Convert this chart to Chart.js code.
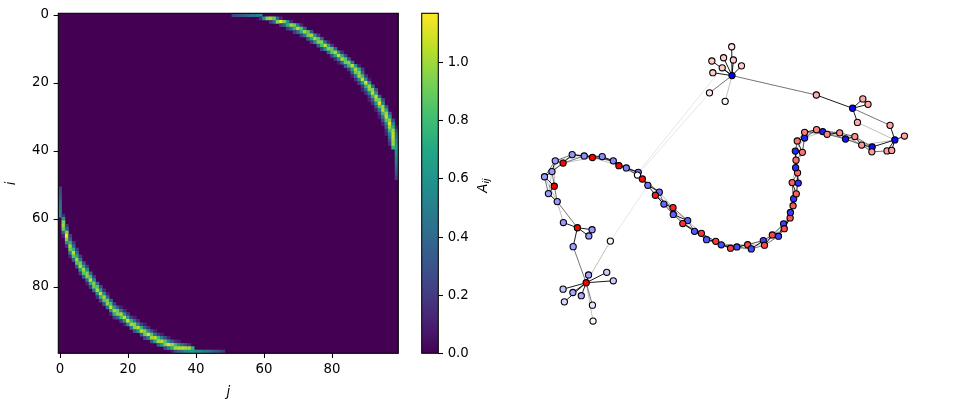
<!DOCTYPE html>
<html><head><meta charset="utf-8">
<script src="https://cdn.jsdelivr.net/npm/chart.js@4/dist/chart.umd.min.js"></script>
<style>
html,body{margin:0;padding:0;background:#fff;overflow:hidden}
#wrap{position:relative;width:957px;height:411px;background:#fff}
#wrap canvas{position:absolute;top:0}
</style></head><body>
<div id="wrap">
<canvas id="hm" width="410" height="411" style="left:0px"></canvas>
<canvas id="cb" width="110" height="411" style="left:400px"></canvas>
<canvas id="net" width="477" height="411" style="left:480px"></canvas>
</div>
<script>
// ---------------- DATA ----------------
// Matrix A_ij (100 x 100), zero everywhere except two arcs.
// Upper-right arc, read row by row: first nonzero column of row r, then its values.
const upperArcStart = [51,59,62,65,67,69,71,73,74,76,77,79,80,81,82,84,85,86,86,87,88,89,89,90,91,91,92,93,93,94,94,95,95,96,96,96,97,97,97,98,99,99,99,99,99,99,99,99,99];
const upperArcVals = [
 [0.22,0.26,0.3,0.34,0.38,0.42,0.46,0.5,0.55],
 [0.15,0.6,0.95,1.0,0.9,0.4,0.12],
 [0.2,0.4,0.95,1.15,0.95,0.6,0.15],
 [0.2,0.35,0.75,1.0,0.9,0.5,0.12],
 [0.2,0.4,0.75,1.05,0.85,0.35],
 [0.2,0.4,0.75,1.0,0.85,0.3],
 [0.2,0.45,0.9,1.0,0.65,0.2],
 [0.3,0.7,1.0,0.85,0.35],
 [0.2,0.55,0.95,0.95,0.45,0.1],
 [0.35,0.8,1.05,0.7,0.2],
 [0.2,0.55,0.95,0.9,0.4],
 [0.4,0.85,1.0,0.6,0.15],
 [0.25,0.7,1.05,0.75,0.25],
 [0.15,0.55,1.0,0.85,0.3],
 [0.1,0.4,0.9,0.95,0.45],
 [0.35,0.8,1.05,0.6,0.1],
 [0.2,0.65,1.0,0.75,0.2],
 [0.35,0.9,0.95,0.35],
 [0.1,0.45,1.0,0.8,0.2],
 [0.15,0.55,1.05,0.6,0.1],
 [0.2,0.65,1.1,0.55],
 [0.2,0.75,1.0,0.45],
 [0.1,0.4,0.95,0.95,0.3],
 [0.15,0.55,1.05,0.6],
 [0.2,0.75,1.05,0.35],
 [0.1,0.35,0.95,0.9,0.25],
 [0.15,0.6,1.1,0.5],
 [0.3,0.85,1.0,0.3],
 [0.1,0.45,1.05,0.7],
 [0.2,0.8,1.0,0.35],
 [0.1,0.5,1.05,0.6],
 [0.25,0.85,0.95,0.25],
 [0.1,0.55,1.1,0.5],
 [0.35,1.0,0.75,0.1],
 [0.15,0.8,1.0,0.25],
 [0.1,0.55,1.05,0.4],
 [0.4,1.05,0.45],
 [0.25,1.0,0.55],
 [0.15,1.0,0.6],
 [0.75,0.65],
 [0.6],[0.57],[0.53],[0.48],[0.43],[0.38],[0.32],[0.27],[0.2]
];
// Lower-left arc, read column by column: first nonzero row of column c, then its values.
const lowerArcStart = [51,59,62,65,67,69,71,73,74,76,77,79,80,81,82,84,85,86,86,87,88,89,89,90,91,91,92,93,93,94,94,95,95,96,96,96,97,97,97,98,99,99,99,99,99,99,99,99,99];
const lowerArcVals = [
 [0.22,0.26,0.3,0.34,0.38,0.42,0.46,0.5,0.55],
 [0.15,0.6,0.95,1.0,0.9,0.4,0.12],
 [0.2,0.4,0.95,1.15,0.95,0.6,0.15],
 [0.2,0.35,0.75,1.0,0.9,0.5,0.12],
 [0.2,0.4,0.75,1.05,0.85,0.35],
 [0.2,0.4,0.75,1.0,0.85,0.3],
 [0.2,0.45,0.9,1.0,0.65,0.2],
 [0.3,0.7,1.0,0.85,0.35],
 [0.2,0.55,0.95,0.95,0.45,0.1],
 [0.35,0.8,1.05,0.7,0.2],
 [0.2,0.55,0.95,0.9,0.4],
 [0.4,0.85,1.0,0.6,0.15],
 [0.25,0.7,1.05,0.75,0.25],
 [0.15,0.55,1.0,0.85,0.3],
 [0.1,0.4,0.9,0.95,0.45],
 [0.35,0.8,1.05,0.6,0.1],
 [0.2,0.65,1.0,0.75,0.2],
 [0.35,0.9,0.95,0.35],
 [0.1,0.45,1.0,0.8,0.2],
 [0.15,0.55,1.05,0.6,0.1],
 [0.2,0.65,1.1,0.55],
 [0.2,0.75,1.0,0.45],
 [0.1,0.4,0.95,0.95,0.3],
 [0.15,0.55,1.05,0.6],
 [0.2,0.75,1.05,0.35],
 [0.1,0.35,0.95,0.9,0.25],
 [0.15,0.6,1.1,0.5],
 [0.3,0.85,1.0,0.3],
 [0.1,0.45,1.05,0.7],
 [0.2,0.8,1.0,0.35],
 [0.1,0.5,1.05,0.6],
 [0.25,0.85,0.95,0.25],
 [0.1,0.55,1.1,0.5],
 [0.35,1.0,0.75,0.1],
 [0.15,0.8,1.0,0.25],
 [0.1,0.55,1.05,0.4],
 [0.4,1.05,0.45],
 [0.25,1.0,0.55],
 [0.15,1.0,0.6],
 [0.75,0.65],
 [0.6],[0.57],[0.53],[0.48],[0.43],[0.38],[0.32],[0.27],[0.2]
];
const matrixSize = 100;
const hmTicks = [0,20,40,60,80];
const cbMax = 1.17;
const cbTicks = [0.0,0.2,0.4,0.6,0.8,1.0];

// Network: node layout positions, node colour value (bwr, 0=blue, 0.5=white, 1=red)
const nodeX = [-1.663,-1.753,-1.693,-1.793,-1.717,-1.683,-1.603,-1.510,-1.387,-1.303,
 -1.203,-1.090,-1.033,-0.957,-0.835,-0.843,-0.793,-0.737,-0.620,-0.660,
 -0.573,-0.480,-0.477,-0.330,-0.380,-0.260,-0.190,-0.137,-0.043,0.013,
 0.108,0.173,0.283,0.320,0.443,0.455,0.535,0.598,0.650,0.657,
 0.717,0.720,0.747,0.753,0.780,0.738,0.800,0.793,0.773,0.777,
 0.770,0.842,0.790,0.865,0.865,0.987,1.050,1.095,1.223,1.283,
 1.378,1.448,1.555,1.552,1.707,1.755,1.787,1.885,1.738,1.355,
 1.405,1.460,1.513,0.985,0.123,0.120,0.037,0.137,-0.083,0.220,
 0.023,-0.073,-0.107,0.053,-1.457,-1.600,-1.307,-1.340,-1.500,-1.120,
 -1.367,-1.343,-1.157,-1.090,-1.603,-1.503,-1.417,-1.590,-1.303,-1.297];
const nodeY = [0.085,0.167,0.243,0.340,0.393,0.503,0.480,0.567,0.553,0.537,
 0.547,0.503,0.453,0.430,0.385,0.357,0.317,0.252,0.182,0.150,
 0.060,0.023,-0.047,-0.110,-0.140,-0.220,-0.240,-0.305,-0.322,-0.358,
 -0.393,-0.380,-0.357,-0.400,-0.315,-0.362,-0.257,-0.270,-0.143,-0.193,
 -0.082,-0.027,0.043,0.115,0.165,0.280,0.275,0.380,0.433,0.510,
 0.603,0.590,0.707,0.737,0.795,0.823,0.803,0.775,0.790,0.727,
 0.752,0.665,0.645,0.595,0.605,0.610,0.717,0.757,0.867,1.042,
 0.897,1.138,1.082,1.178,1.377,1.673,1.560,1.537,1.527,1.477,
 1.457,1.407,1.200,1.113,-0.183,-0.130,-0.203,-0.267,-0.377,-0.320,
 -0.747,-0.667,-0.640,-0.727,-0.813,-0.847,-0.880,-0.943,-0.977,-1.140];
const nodeValue = [0.3,0.3,1.0,0.3,0.3,0.3,1.0,0.29,0.28,1.0,
 0.27,0.26,1.0,0.25,0.24,0.5,0.98,0.22,0.21,0.95,
 0.2,0.93,0.19,0.18,0.91,0.17,0.9,0.16,0.89,0.15,
 0.88,0.14,0.87,0.14,0.13,0.86,0.86,0.12,0.12,0.85,
 0.84,0.11,0.83,0.1,0.82,0.82,0.09,0.8,0.08,0.79,
 0.07,0.78,0.77,0.06,0.76,0.75,0.05,0.74,0.73,0.04,
 0.72,0.71,0.03,0.7,0.69,0.69,0.02,0.68,0.68,0.01,
 0.67,0.67,0.67,0.66,0.0,0.55,0.6,0.6,0.6,0.6,
 0.6,0.6,0.55,0.52,1.0,0.3,0.3,0.3,0.32,0.48,
 1.0,0.32,0.4,0.4,0.38,0.33,0.33,0.42,0.45,0.49];
// Edges grouped by drawn strength
const edgesStrong = [[0,1],[1,2],[2,3],[3,4],[4,5],[5,6],[6,7],[7,8],[8,9],[9,10],[10,11],[11,12],[12,13],[13,14],[14,15],[15,16],[16,17],[17,18],[18,19],[19,20],[20,21],[21,22],[22,23],[23,24],[24,25],[25,26],[26,27],[27,28],[28,29],[29,30],[30,31],[31,32],[32,33],[33,34],[34,35],[35,36],[36,37],[37,38],[38,39],[39,40],[40,41],[41,42],[42,43],[43,44],[44,45],[45,46],[46,47],[47,48],[48,49],[49,50],[50,51],[51,52],[52,53],[53,54],[54,55],[55,56],[56,57],[57,58],[58,59],[59,60],[60,61],[61,62],[62,63],[62,66],[64,66],[65,66],[67,66],[66,68],[69,70],[69,71],[69,72],[69,73],[74,75],[74,76],[74,77],[74,78],[74,79],[74,80],[74,81],[84,85],[84,86],[84,87],[84,88],[90,91],[90,92],[90,93],[90,94],[90,95],[90,96],[90,97]];
const edgesMedium = [[0,2],[1,3],[2,4],[3,5],[4,6],[5,7],[6,8],[7,9],[8,10],[9,11],[10,12],[11,13],[12,14],[13,15],[14,16],[15,17],[16,18],[17,19],[18,20],[19,21],[20,22],[21,23],[22,24],[23,25],[24,26],[25,27],[26,28],[27,29],[28,30],[29,31],[30,32],[31,33],[32,34],[33,35],[34,36],[35,37],[36,38],[37,39],[38,40],[39,41],[40,42],[41,43],[42,44],[43,45],[44,46],[45,47],[46,48],[47,49],[48,50],[49,51],[50,52],[51,53],[52,54],[53,55],[54,56],[55,57],[56,58],[57,59],[58,60],[59,61],[60,62],[61,63],[63,64],[68,69],[73,74],[74,82],[90,98],[88,90],[0,84]];
const edgesWeak = [[0,3],[1,4],[2,5],[3,6],[4,7],[5,8],[6,9],[7,10],[8,11],[9,12],[10,13],[11,14],[12,15],[13,16],[14,17],[15,18],[16,19],[17,20],[18,21],[19,22],[20,23],[21,24],[22,25],[23,26],[24,27],[25,28],[26,29],[27,30],[28,31],[29,32],[30,33],[31,34],[32,35],[33,36],[34,37],[35,38],[36,39],[37,40],[38,41],[39,42],[40,43],[41,44],[42,45],[43,46],[44,47],[45,48],[46,49],[47,50],[48,51],[49,52],[50,53],[51,54],[52,55],[53,56],[54,57],[55,58],[56,59],[57,60],[58,61],[59,62],[60,63],[74,83],[90,99],[89,90],[0,85],[70,66],[61,66]];
const edgesFaint = [[82,15],[80,14],[89,17]];

// ---------------- HELPERS ----------------
const FONT = 'DejaVu Sans';
const FS = 13.3;
Chart.defaults.font.family = FONT;
Chart.defaults.font.size = FS;
Chart.defaults.color = '#000';
Chart.defaults.animation = false;

const VIR = ['#440154','#482475','#414487','#355f8d','#2a788e','#21918c','#22a884','#44bf70','#7ad151','#bddf26','#fde725']
  .map(h => [parseInt(h.slice(1,3),16), parseInt(h.slice(3,5),16), parseInt(h.slice(5,7),16)]);
function viridis(t){
  t = Math.max(0, Math.min(1, t));
  const p = t*10, i = Math.min(9, Math.floor(p)), f = p - i, a = VIR[i], b = VIR[i+1];
  return 'rgb(' + [0,1,2].map(k => Math.round(a[k] + (b[k]-a[k])*f)).join(',') + ')';
}
function bwr(v){
  if (v < 0.5){ const k = Math.round(255*2*v); return `rgb(${k},${k},255)`; }
  const k = Math.round(255*(2-2*v)); return `rgb(255,${k},${k})`;
}
const frame = { id:'frame', afterDatasetsDraw(chart){
  const {ctx, chartArea:a} = chart; ctx.save(); ctx.strokeStyle = '#000'; ctx.lineWidth = 1.07;
  ctx.strokeRect(a.left, a.top, a.right-a.left, a.bottom-a.top); ctx.restore(); } };
const zeroFill = { id:'zeroFill', beforeDatasetsDraw(chart){
  const {ctx, chartArea:a} = chart; ctx.save(); ctx.fillStyle = viridis(0);
  ctx.fillRect(a.left, a.top, a.right-a.left, a.bottom-a.top); ctx.restore(); } };
const tickFont = {family: FONT, size: FS};
const tickGrid = {display:true, drawOnChartArea:false, drawTicks:true, tickLength:4.67, tickColor:'#000', tickWidth:1.07};

// ---------------- HEATMAP ----------------
const cells = [];
upperArcStart.forEach((s, r) => upperArcVals[r].forEach((v, k) => cells.push({x: s+k, y: r, v})));
lowerArcStart.forEach((s, c) => lowerArcVals[c].forEach((v, k) => cells.push({x: c, y: s+k, v})));

new Chart(document.getElementById('hm'), {
  type: 'scatter',
  data: { datasets: [{
    data: cells,
    pointStyle: 'rect',
    pointRadius: c => { const s = c.chart.scales.x; return Math.abs(s.getPixelForValue(1) - s.getPixelForValue(0)) / Math.SQRT2 + 0.25; },
    pointBorderWidth: 0,
    pointBackgroundColor: c => viridis(c.raw ? c.raw.v / cbMax : 0)
  }]},
  options: {
    responsive: false, devicePixelRatio: 1, events: [],
    layout: { padding: {left:0, top:13.3, right:11.7, bottom:0} },
    plugins: { legend:{display:false}, tooltip:{enabled:false} },
    scales: {
      x: { type:'linear', position:'bottom', min:-0.5, max:matrixSize-0.5,
        afterBuildTicks: s => { s.ticks = hmTicks.map(v => ({value:v})); },
        afterFit: s => { s.height = 57.7; },
        ticks: { font: tickFont, color:'#000', padding:4, maxRotation:0, autoSkip:false },
        grid: tickGrid, border: {display:false},
        title: { display:true, text:'j', color:'#000', font:{family:FONT, size:FS, style:'italic'}, padding:{top:0, bottom:10} } },
      y: { type:'linear', position:'left', reverse:true, min:-0.5, max:matrixSize-0.5,
        afterBuildTicks: s => { s.ticks = hmTicks.map(v => ({value:v})); },
        afterFit: s => { s.width = 58.3; },
        ticks: { font: tickFont, color:'#000', padding:4.67, autoSkip:false },
        grid: tickGrid, border: {display:false},
        title: { display:true, text:'i', color:'#000', font:{family:FONT, size:FS, style:'italic'}, padding:{top:3.7, bottom:0} } }
    }
  },
  plugins: [zeroFill, frame]
});

// ---------------- COLORBAR ----------------
const cbLabel = { id:'cbLabel', afterDraw(chart){
  const ctx = chart.ctx; ctx.save();
  ctx.translate(81.7, 185.5); ctx.rotate(-Math.PI/2);
  ctx.fillStyle = '#000'; ctx.textBaseline = 'alphabetic';
  ctx.font = `italic ${FS}px "${FONT}"`; const wA = ctx.measureText('A').width;
  ctx.font = `italic 9.3px "${FONT}"`; const wS = ctx.measureText('ij').width;
  const x0 = -(wA + wS)/2;
  ctx.font = `italic ${FS}px "${FONT}"`; ctx.fillText('A', x0, 4.8);
  ctx.font = `italic 9.3px "${FONT}"`; ctx.fillText('ij', x0 + wA, 7.6);
  ctx.restore(); } };

new Chart(document.getElementById('cb'), {
  type: 'bar',
  data: { labels: [''], datasets: [{
    data: [[0, cbMax]],
    borderWidth: 0, barPercentage: 1, categoryPercentage: 1,
    backgroundColor: c => {
      const a = c.chart.chartArea; if (!a) return viridis(0.5);
      const g = c.chart.ctx.createLinearGradient(0, a.bottom, 0, a.top);
      for (let k = 0; k <= 20; k++) g.addColorStop(k/20, viridis(k/20));
      return g;
    }
  }]},
  options: {
    responsive: false, devicePixelRatio: 1, events: [],
    layout: { padding: {left:21.7, top:13.3, right:0, bottom:57.7} },
    plugins: { legend:{display:false}, tooltip:{enabled:false} },
    scales: {
      x: { display:false },
      y: { type:'linear', position:'right', min:0, max:cbMax,
        afterBuildTicks: s => { s.ticks = cbTicks.map(v => ({value:v})); },
        afterFit: s => { s.width = 71.7; },
        ticks: { font: tickFont, color:'#000', padding:4.67, callback: v => Number(v).toFixed(1) },
        grid: tickGrid, border: {display:false} }
    }
  },
  plugins: [frame, cbLabel]
});

// ---------------- NETWORK ----------------
function edgeData(pairs){
  const d = [];
  pairs.forEach(([a, b]) => { d.push({x:nodeX[a], y:nodeY[a]}, {x:nodeX[b], y:nodeY[b]}, {x:nodeX[b], y:null}); });
  return d;
}
function edgeSet(pairs, alpha, order){
  return { data: edgeData(pairs), showLine:true, spanGaps:false, pointRadius:0, borderWidth:1,
    borderColor:`rgba(0,0,0,${alpha})`, fill:false, tension:0, order, clip:false };
}
new Chart(document.getElementById('net'), {
  type: 'scatter',
  data: { datasets: [
    { data: nodeX.map((x, i) => ({x, y: nodeY[i]})), pointRadius:3.1, pointBorderWidth:1.1,
      pointBorderColor:'#000', pointBackgroundColor: nodeValue.map(bwr), showLine:false, order:0, clip:false },
    edgeSet(edgesStrong, 0.9, 1),
    edgeSet(edgesMedium, 0.55, 2),
    edgeSet(edgesWeak, 0.25, 3),
    edgeSet(edgesFaint, 0.1, 4)
  ]},
  options: {
    responsive: false, devicePixelRatio: 1, events: [],
    layout: { padding: 0 },
    plugins: { legend:{display:false}, tooltip:{enabled:false} },
    scales: {
      x: { type:'linear', display:false, min:-2.4, max:2.37 },
      y: { type:'linear', display:false, min:-2.01, max:2.10 }
    }
  }
});
</script>
</body></html>
